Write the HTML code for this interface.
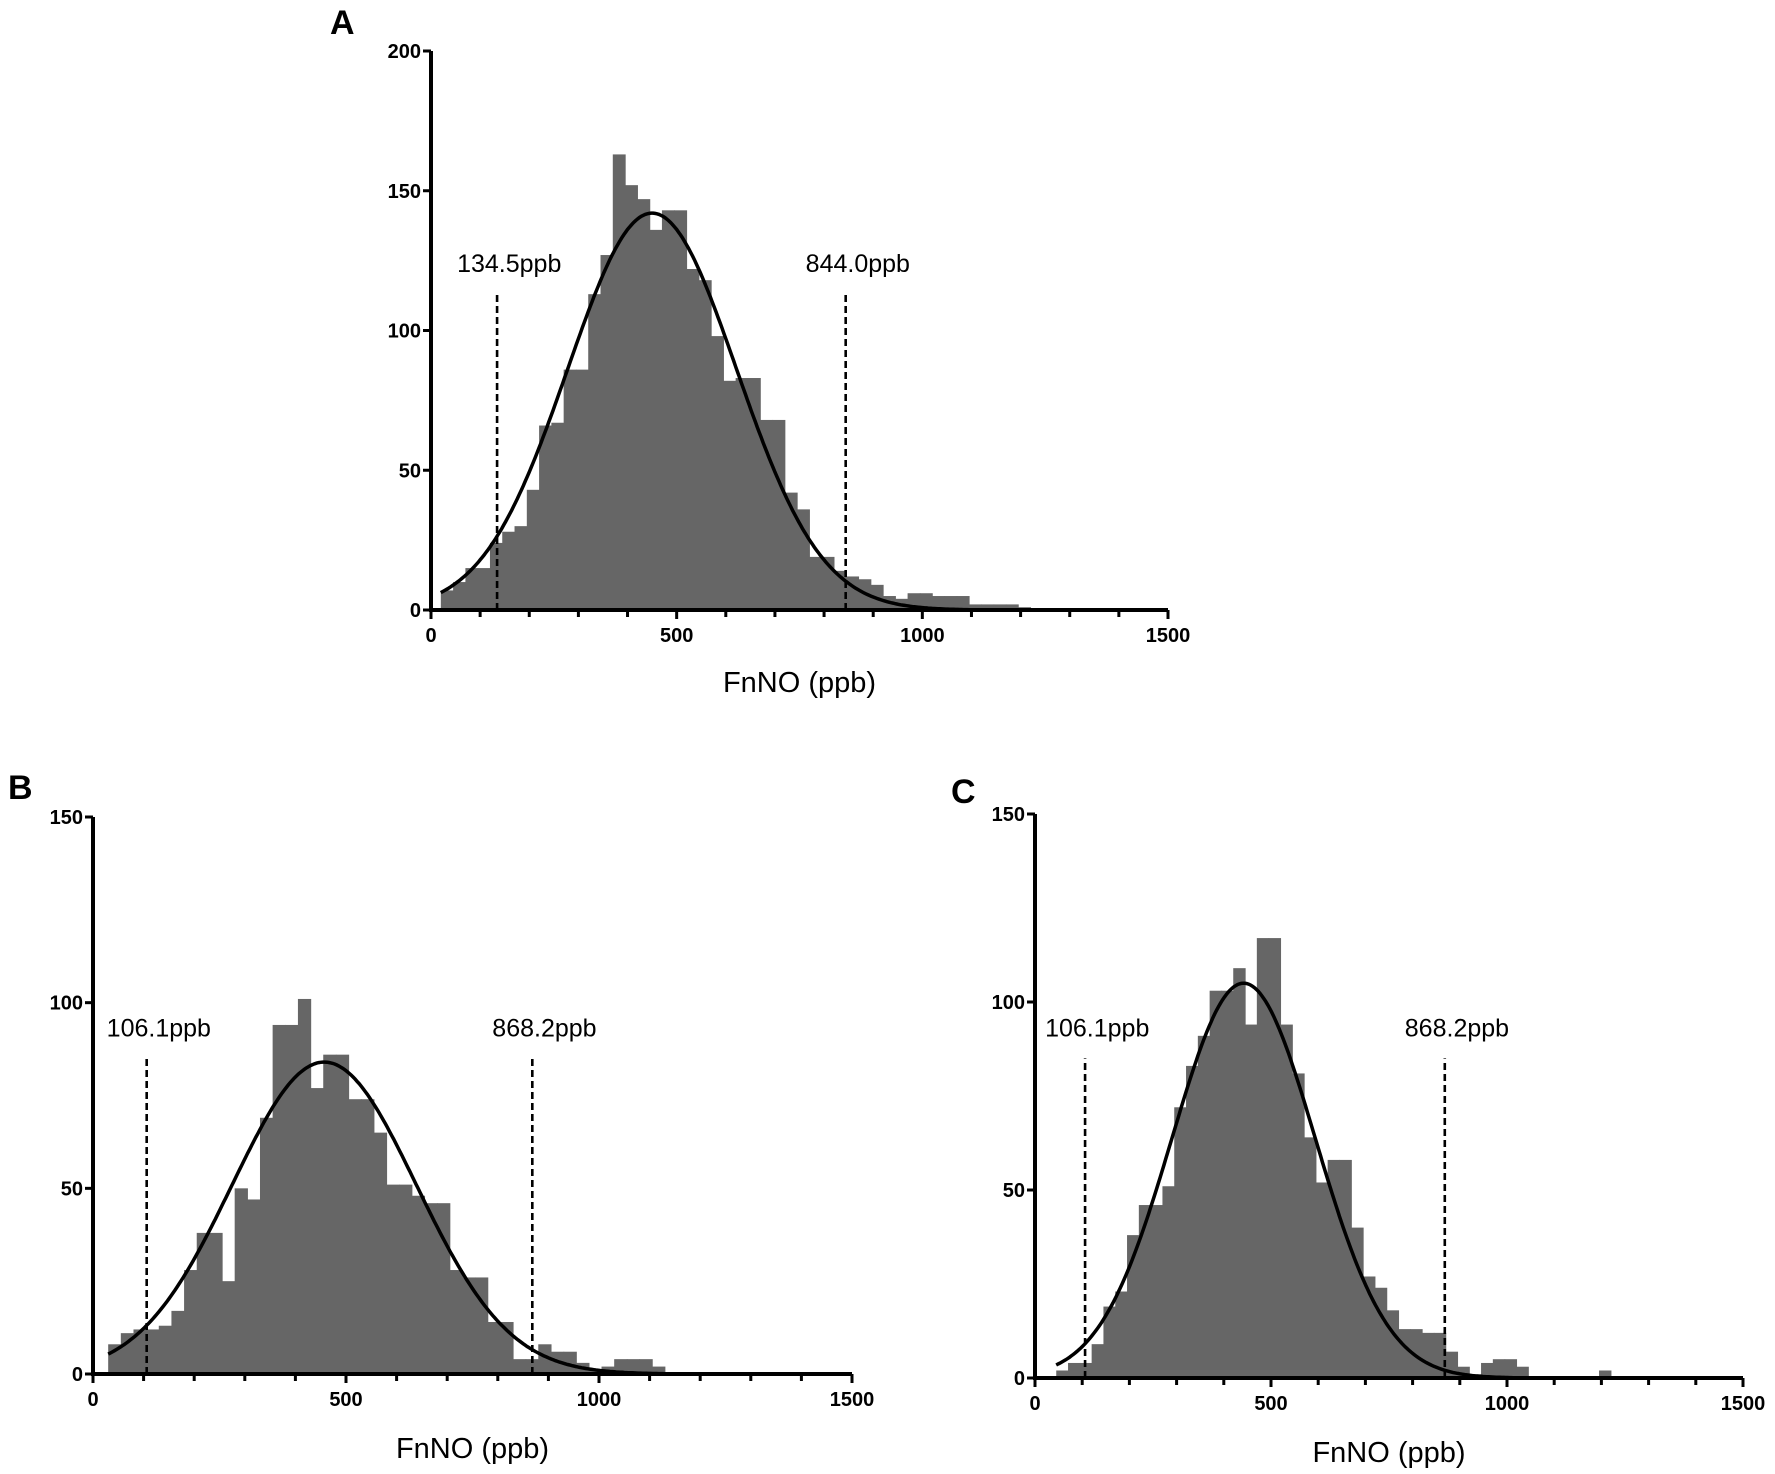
<!DOCTYPE html>
<html><head><meta charset="utf-8">
<style>
html,body{margin:0;padding:0;background:#fff;}
svg{display:block;}
text{font-family:"Liberation Sans",Arial,sans-serif;fill:#000;}
.tick{font-size:20px;font-weight:bold;}
.title{font-size:29px;}
.ann{font-size:25px;}
.letter{font-size:34px;font-weight:bold;}
</style></head>
<body>
<svg id="fig" width="1775" height="1474" viewBox="0 0 1775 1474" xmlns="http://www.w3.org/2000/svg"></svg>
<script>
// Panel A data
const binStartA = 20;
const binWidthA = 25;
const countsA = [7,10,15,15,24,28,30,43,66,67,86,86,113,127,163,152,147,136,143,143,122,118,98,82,83,83,68,68,42,36,19,19,14,12,11,9,5,4,6,6,5,5,5,2,2,2,2,1];
const fitA = [450,172,142]; // mean, sd, peak
const refA = [134.5,844.0];
const refLabelsA = ["134.5ppb","844.0ppb"];
const yTicksA = [0,50,100,150,200];
// Panel B data
const binStartB = 30;
const binWidthB = 25;
const countsB = [8,11,12,12,13,17,28,38,38,25,50,47,69,94,94,101,77,86,86,74,74,65,51,51,48,46,46,28,26,26,14,14,4,4,8,6,6,3,1,2,4,4,4,2];
const fitB = [457,182,84];
const refB = [106.1,868.2];
const refLabelsB = ["106.1ppb","868.2ppb"];
const yTicksB = [0,50,100,150];
// Panel C data
const binStartC = 45;
const binWidthC = 25;
const countsC = [2,4,4,9,19,23,38,46,46,51,72,83,91,103,103,109,94,117,117,94,81,64,52,58,58,40,27,24,18,13,13,12,12,7,3,1,4,5,5,3,0.5,0.5,0.5,0.5,0.5,0.5,2];
const fitC = [442,152,105];
const refC = [106.1,868.2];
const refLabelsC = ["106.1ppb","868.2ppb"];
const yTicksC = [0,50,100,150];
const xTicks = [0,500,1000,1500];

const NS = "http://www.w3.org/2000/svg";
const svg = document.getElementById('fig');
function mk(tag, attrs, parent){
  const e = document.createElementNS(NS, tag);
  for (const k in attrs) e.setAttribute(k, attrs[k]);
  (parent||svg).appendChild(e);
  return e;
}

function panel(id, P){
  const g = mk('g', {});
  
  
  const sx = v => P.x0 + (v/1500)*(P.x1-P.x0);
  const sy = v => P.y0 - (v/P.ymax)*(P.y0-P.ytop);
  P.counts.forEach((c,i)=>{
    const a = P.binStart + i*P.binWidth, b = a + P.binWidth;
    const r = mk('rect', {x:sx(a), y:sy(c), width:sx(b)-sx(a)+0.6, height:P.y0-sy(c), fill:'#666666'}, g);
    
    
  });
  const [mu, sd, pk] = P.fit;
  let d = '';
  const xs = P.binStart, xe = Math.min(1230, mu + 5*sd);
  for (let x = xs; x <= xe; x += 4){
    const v = pk*Math.exp(-0.5*((x-mu)/sd)**2);
    d += (x===xs?'M':'L') + sx(x).toFixed(1) + ',' + sy(v).toFixed(1);
  }
  const curve = mk('path', {d:d, fill:'none', stroke:'#000', 'stroke-width':3.5}, g);
  
  
  P.refs.forEach((r,i)=>{
    const ln = mk('line', {x1:sx(r), x2:sx(r), y1:P.y0, y2:sy(P.refTop), stroke:'#000', 'stroke-width':2.6, 'stroke-dasharray':'7,4'}, g);
    
    
    const t = mk('text', {x:sx(r)-40, y:sy(P.refTop)-22, class:'ann'}, g);
    t.textContent = P.refLabels[i];
    
    
  });
  const ax = mk('path', {d:`M${P.x0},${P.ytop} L${P.x0},${P.y0} L${P.x1},${P.y0}`, fill:'none', stroke:'#000', 'stroke-width':4}, g);
  
  
  P.yTicks.forEach(v=>{
    mk('line', {x1:P.x0-8, x2:P.x0, y1:sy(v), y2:sy(v), stroke:'#000', 'stroke-width':3}, g);
    const t = mk('text', {x:P.x0-10, y:sy(v)+7, class:'tick', 'text-anchor':'end'}, g);
    t.textContent = v;
    
    
  });
  for (let v=0; v<=1500; v+=100){
    mk('line', {x1:sx(v), x2:sx(v), y1:P.y0, y2:P.y0+(v%500===0?9:7), stroke:'#000', 'stroke-width':3}, g);
  }
  xTicks.forEach(v=>{
    const t = mk('text', {x:sx(v), y:P.y0+32, class:'tick', 'text-anchor':'middle'}, g);
    t.textContent = v;
    
    
  });
  const tt = mk('text', {x:(P.x0+P.x1)/2, y:P.titleY, class:'title', 'text-anchor':'middle'}, g);
  tt.textContent = 'FnNO (ppb)';
  
  
  const lt = mk('text', {x:P.lx, y:P.ly, class:'letter'}, g);
  lt.textContent = id;
  
  
}

panel('A', {x0:431,x1:1168,y0:610,ytop:51,ymax:200,binStart:binStartA,binWidth:binWidthA,counts:countsA,fit:fitA,refs:refA,refLabels:refLabelsA,refTop:113,yTicks:yTicksA,titleY:692,lx:330,ly:34});
panel('B', {x0:93,x1:852,y0:1374,ytop:817,ymax:150,binStart:binStartB,binWidth:binWidthB,counts:countsB,fit:fitB,refs:refB,refLabels:refLabelsB,refTop:85,yTicks:yTicksB,titleY:1458,lx:8,ly:799});
panel('C', {x0:1035,x1:1743,y0:1378,ytop:814,ymax:150,binStart:binStartC,binWidth:binWidthC,counts:countsC,fit:fitC,refs:refC,refLabels:refLabelsC,refTop:85,yTicks:yTicksC,titleY:1462,lx:951,ly:803});
</script>
</body></html>
